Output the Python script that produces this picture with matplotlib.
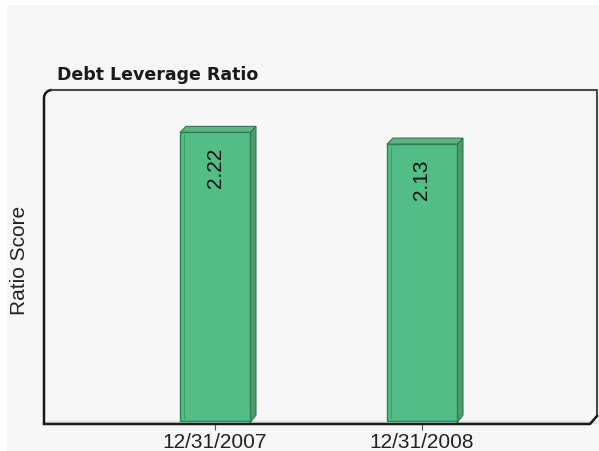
import numpy as np
import matplotlib
matplotlib.use("Agg")
import matplotlib.pyplot as plt
from matplotlib.patches import Polygon, Rectangle

categories = ["12/31/2007", "12/31/2008"]
values = [2.22, 2.13]
value_labels = ["2.22", "2.13"]

title = "Debt Leverage Ratio"
ylabel = "Ratio Score"

W, H = 599, 452
fig = plt.figure(figsize=(W / 100, H / 100), dpi=100)
fig.patch.set_facecolor("white")

# light grey panel behind everything
fig.add_artist(Rectangle((7 / W, 0), 1 - 7 / W, 1 - 6 / H,
                         transform=fig.transFigure, facecolor="#f6f6f6",
                         edgecolor="none", zorder=-10))

ax = fig.add_axes([44 / W, (H - 425) / H, (597 - 44) / W, (425 - 91) / H])
ax.set_zorder(1)
ax.set_facecolor("#f7f7f7")

px_x = 207.0   # pixels per category
px_y = 130.0   # pixels per unit
x0, x1 = (44 - 215) / px_x, (597 - 215) / px_x
ax.set_xlim(x0, x1)
ax.set_ylim(-3 / px_y, (422 - 91) / px_y)

x = np.arange(len(categories))
width = 70 / px_x
dx = 6 / px_x
dy = 6 / px_y

# floor strip
ax.add_patch(Polygon([(x0, 0), (x1, 0), (x1, -3 / px_y), (x0, -3 / px_y)],
                     closed=True, facecolor="#e0e0e0", edgecolor="none", zorder=1))

for xi, v, lab in zip(x, values, value_labels):
    left = xi - width / 2
    right = xi + width / 2
    # side face
    ax.add_patch(Polygon([(right, -2 / px_y), (right + dx, dy), (right + dx, v + dy), (right, v)],
                         closed=True, facecolor="#4f9a6c", edgecolor="#2f7a4c",
                         lw=0.8, zorder=2))
    # top face
    ax.add_patch(Polygon([(left, v), (left + dx, v + dy), (right + dx, v + dy), (right, v)],
                         closed=True, facecolor="#5fb486", edgecolor="#2f7a4c",
                         lw=0.8, zorder=2))
    ax.bar(xi, v, width=width, color="#52bd84", edgecolor="#2e8050",
           linewidth=1.0, zorder=3)
    # inner highlight line along the left edge
    ax.plot([left + 4 / px_x, left + 4 / px_x], [0.02, v - 0.02],
            color="#3f9e68", lw=0.8, zorder=4)
    ax.text(xi, v - 14 / px_y, lab, rotation=90, ha="center", va="top",
            fontsize=15, family="Liberation Sans", color="#111111", zorder=5)

ax.set_xticks(x)
ax.set_xticklabels(categories, fontsize=15, family="Liberation Sans", color="#222222")
ax.tick_params(axis="x", length=4, width=0.8, color="#555555", pad=2)
ax.set_yticks([])

for side in ax.spines:
    ax.spines[side].set_visible(False)

# frame: rounded top-left corner, bevelled bottom-right
aw, ah = 553.0, 334.0
r = 8.0
t = np.linspace(np.pi, np.pi / 2, 12)
arc_x = (r + r * np.cos(t)) / aw
arc_y = 1 - (r - r * np.sin(t)) / ah
frame_x = np.concatenate([[0.0], arc_x, [1.0, 1.0]])
frame_y = np.concatenate([[0.0], arc_y, [1.0, 8 / ah]])
ax.plot(frame_x[:len(arc_x) + 1], frame_y[:len(arc_x) + 1], transform=ax.transAxes,
        color="#1a1a1a", lw=1.8, clip_on=False, zorder=6, solid_capstyle="butt")
ax.plot(frame_x[len(arc_x):], frame_y[len(arc_x):], transform=ax.transAxes,
        color="#4a4a4a", lw=1.5, clip_on=False, zorder=6)
ax.plot([0, 1 - 7 / aw, 1], [0, 0, 8 / ah], transform=ax.transAxes,
        color="#1a1a1a", lw=1.8, clip_on=False, zorder=6)

fig.text(20 / W, 1 - 260 / H, ylabel, rotation=90, ha="center", va="center",
         fontsize=15, family="Liberation Sans", color="#222222")
fig.text(57 / W, 1 - 80 / H, title, ha="left", va="baseline",
         fontsize=12.5, family="DejaVu Sans", weight="bold", color="#1a1a1a")

fig.savefig("out.png", dpi=100, facecolor=fig.get_facecolor())
